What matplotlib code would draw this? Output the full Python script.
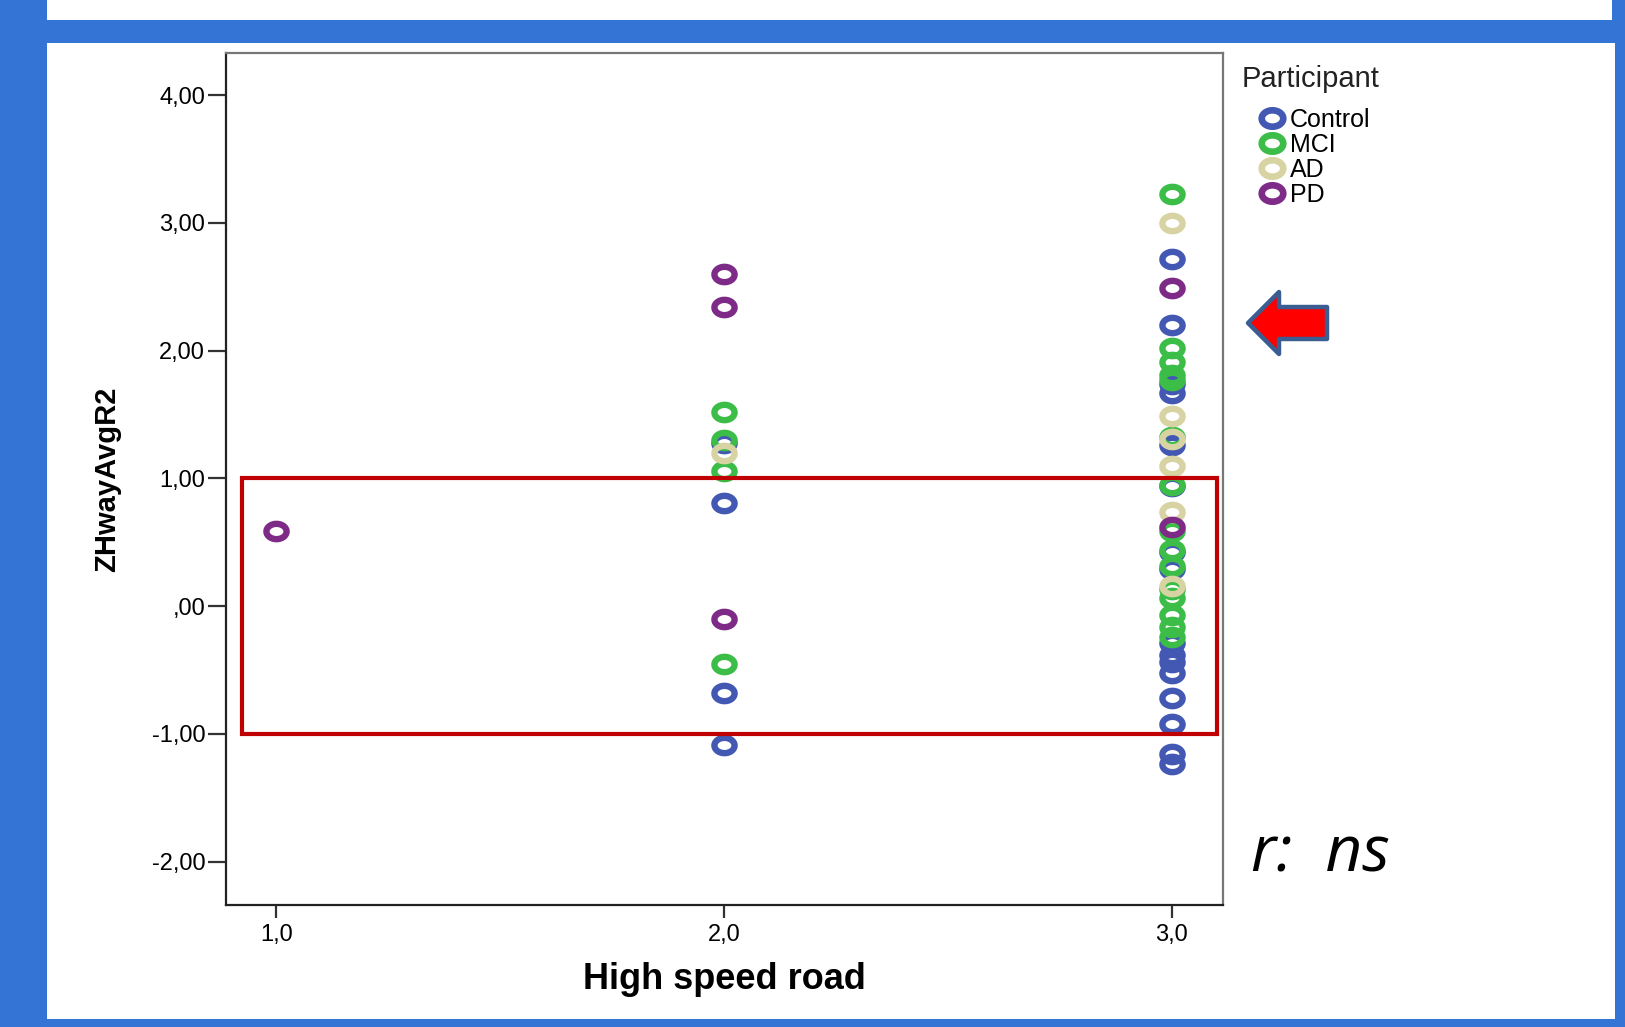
"""Scatter of ZHwayAvgR2 vs high speed road rating, SPSS-style slide."""
import numpy as np
import matplotlib.pyplot as plt
from matplotlib.path import Path
from matplotlib.patches import Rectangle, FancyArrow
from matplotlib.lines import Line2D

# --- data ----------------------------------------------------------------
control_x = [2, 2, 2, 2,
             3, 3, 3, 3, 3, 3, 3, 3, 3, 3, 3, 3, 3, 3, 3, 3]
control_y = [1.28, 0.81, -0.68, -1.09,
             2.72, 2.20, 1.74, 1.67, 1.26, 0.94, 0.42, 0.29, -0.29, -0.38,
             -0.44, -0.52, -0.72, -0.92, -1.16, -1.24]

mci_x = [2, 2, 2, 2,
         3, 3, 3, 3, 3, 3, 3, 3, 3, 3, 3, 3, 3, 3, 3]
mci_y = [1.52, 1.30, 1.06, -0.45,
         3.23, 2.02, 1.91, 1.81, 1.77, 1.32, 0.95, 0.59, 0.44, 0.31,
         0.13, 0.06, -0.07, -0.16, -0.24]

ad_x = [2, 3, 3, 3, 3, 3, 3]
ad_y = [1.20, 3.00, 1.49, 1.31, 1.10, 0.74, 0.16]

pd_x = [1, 2, 2, 2, 3, 3]
pd_y = [0.59, 2.60, 2.34, -0.10, 2.49, 0.62]

groups = ["Control", "MCI", "AD", "PD"]
colors = ["#4258b2", "#3cbd48", "#d7d3a2", "#7e2b88"]

y_ticks = [4, 3, 2, 1, 0, -1, -2]
y_tick_labels = ["4,00", "3,00", "2,00", "1,00", ",00", "-1,00", "-2,00"]
x_ticks = [1, 2, 3]
x_tick_labels = ["1,0", "2,0", "3,0"]

BLUE_BG = "#3474d4"
FONT = ["Liberation Sans", "DejaVu Sans"]

# flattened ring marker (the SPSS export is stretched horizontally)
t = np.linspace(0, 2 * np.pi, 60)
ring = Path(np.column_stack([0.5 * np.cos(t), 0.38 * np.sin(t)]), closed=True)

fig = plt.figure(figsize=(16.25, 10.27), dpi=100, facecolor=BLUE_BG)

# slide background: white panels on the blue frame
fig.add_artist(Rectangle((0.0289, 0.9805), 0.9631, 0.0195,
                         transform=fig.transFigure, fc="white", ec="none", zorder=-5))
fig.add_artist(Rectangle((0.0289, 0.0078), 0.9650, 0.9502,
                         transform=fig.transFigure, fc="white", ec="none", zorder=-5))

ax = fig.add_axes([0.1391, 0.1188, 0.6135, 0.8296])
ax.set_facecolor("white")

series = [(control_x, control_y), (mci_x, mci_y), (ad_x, ad_y), (pd_x, pd_y)]
for (xs, ys), name, c in zip(series, groups, colors):
    ax.plot(xs, ys, linestyle="none", marker=ring, markersize=14.5,
            markerfacecolor="none", markeredgecolor=c, markeredgewidth=4.6,
            label=name)

ax.set_xlim(0.888, 3.114)
ax.set_ylim(-2.34, 4.33)
ax.set_yticks(y_ticks)
ax.set_yticklabels(y_tick_labels, family=FONT, fontsize=17)
ax.set_xticks(x_ticks)
ax.set_xticklabels(x_tick_labels, family=FONT, fontsize=17)
ax.tick_params(axis="y", length=13, width=1.6, color="#333333", pad=2)
ax.tick_params(axis="x", length=9, width=1.6, color="#333333", pad=5)
for side in ["left", "bottom"]:
    ax.spines[side].set_linewidth(1.6)
    ax.spines[side].set_color("#222222")
for side in ["top", "right"]:
    ax.spines[side].set_linewidth(1.6)
    ax.spines[side].set_color("#777777")

ax.set_xlabel("High speed road", family=FONT, fontsize=26, fontweight="bold", labelpad=11)
ax.set_ylabel("ZHwayAvgR2", family=["Liberation Sans Narrow", "Liberation Sans"],
              fontsize=21, fontweight="bold", labelpad=22)

# red highlight box around -1..1
ax.add_patch(Rectangle((0.923, -1.0), 2.177, 2.0, fill=False,
                       ec="#c00000", lw=3.0, zorder=5, clip_on=False))

# legend (title drawn separately so the entries sit indented under it)
handles = [Line2D([], [], linestyle="none", marker=ring, markersize=15.5,
                  markerfacecolor="none", markeredgecolor=c, markeredgewidth=4.8)
           for c in colors]
ax.legend(handles, groups, loc="upper left",
          bbox_to_anchor=(0.7751, 0.8950), bbox_transform=fig.transFigure,
          frameon=False, handlelength=1.0, handletextpad=0.22,
          labelspacing=0.04, borderpad=0, borderaxespad=0,
          prop={"family": FONT, "size": 18})
fig.text(0.7643, 0.9231, "Participant", family=FONT, fontsize=21,
         color="#222222", ha="left", va="center")

# red arrow pointing at the chart
fig.add_artist(FancyArrow(13.27, 7.04, -0.79, 0, width=0.32, head_width=0.62,
                          head_length=0.31, length_includes_head=True,
                          transform=fig.dpi_scale_trans, fc="#ff0000",
                          ec="#3b5e92", lw=3.2, joinstyle="round"))

fig.text(1251 / 1625, (1027 - 872) / 1027, "r:  ns", family=["Open Sans", "DejaVu Sans"],
         style="italic", fontsize=46, va="baseline", ha="left", color="black")

fig.savefig("out.png", dpi=100, facecolor=BLUE_BG)
